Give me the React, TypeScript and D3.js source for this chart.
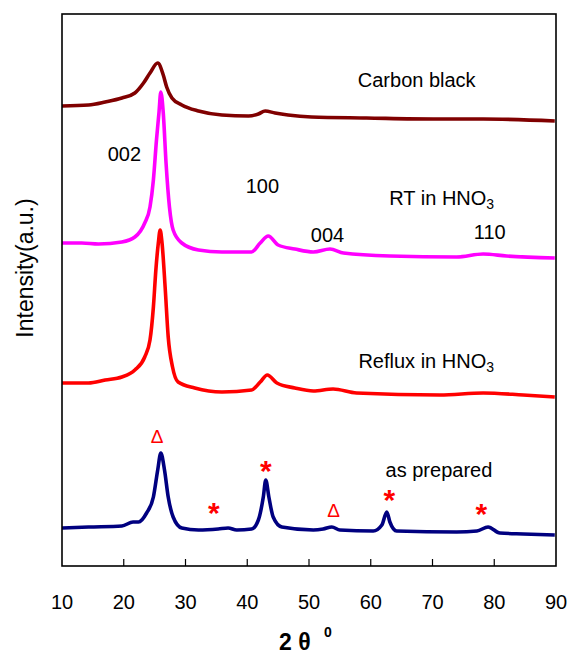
import React from "react";
import * as d3 from "d3";

// 2θ (degrees) and stacked intensity (a.u.)
const carbonTheta = [10, 14.3, 17, 19.7, 21.8, 23.2, 24.25, 25.5, 26.4, 26.95, 27.8, 29.4, 32.1, 35.9, 40.2, 41.8, 42.9, 44.5, 46.6, 50.4, 59.3, 70.1, 78.2, 89.8];
const carbonI = [460, 461, 464, 468, 473, 483, 493, 503, 491, 479, 468, 461, 455, 451, 450, 452, 455, 453, 451, 449, 448, 447, 447, 445];

const rtTheta = [10, 13.2, 15.9, 19.7, 21.8, 23.4, 24.25, 24.8, 25.3, 25.7, 26.0, 26.4, 26.85, 27.4, 28.0, 29.4, 32.1, 35.9, 40.7, 42.1, 43.4, 45.0, 47.7, 50.7, 53.4, 55.6, 63.1, 73.9, 78.2, 82.0, 89.8];
const rtI = [323, 323, 322, 324, 329, 343, 359, 386, 426, 453, 474, 453, 403, 359, 336, 323, 316, 314, 314, 323, 330, 321, 317, 314, 317, 313, 310, 309, 312, 310, 308];

const refluxTheta = [10, 14.3, 17, 19.7, 21.8, 23.4, 24.25, 24.8, 25.2, 25.6, 25.9, 26.2, 26.7, 27.2, 27.9, 28.8, 31.5, 35.9, 40.7, 42.1, 43.25, 44.8, 47.7, 50.7, 53.9, 57.7, 71.2, 78.2, 84.7, 89.8];
const refluxI = [183, 183, 186, 189, 196, 209, 226, 259, 296, 323, 336, 323, 279, 229, 199, 184, 178, 174, 176, 184, 191, 183, 178, 175, 177, 173, 171, 173, 171, 169];

const preparedTheta = [10, 14.3, 19.7, 21.5, 22.4, 23.7, 24.8, 25.5, 26.0, 26.6, 27.2, 28.0, 29.4, 32.1, 35.3, 36.9, 38.3, 40.7, 41.8, 42.6, 43.0, 43.5, 44.2, 45.6, 50.7, 52.3, 53.7, 55.0, 60.4, 61.8, 62.6, 63.1, 64.2, 73.9, 77.2, 79.0, 80.9, 84.7, 89.8];
const preparedI = [38, 39, 40, 44, 44, 53, 69, 96, 113, 96, 69, 49, 38, 36, 37, 38, 36, 37, 46, 69, 86, 69, 49, 39, 36, 37, 39, 36, 35, 41, 54, 44, 35, 34, 35, 39, 33, 32, 31];

const seriesColors = ["#800000", "#ff00ff", "#ff0000", "#000080"];

const xTicks = [10, 20, 30, 40, 50, 60, 70, 80, 90];

// sample labels: text, subscript, 2θ, intensity
const labelText = ["Carbon black", "002", "100", "RT in HNO", "004", "110", "Reflux in HNO", "as prepared"];
const labelSub = ["", "", "", "3", "", "", "3", ""];
const labelTheta = [57.9, 17.4, 39.75, 63.0, 50.3, 76.7, 58.0, 62.4];
const labelI = [479, 405, 373, 361, 324, 327, 198, 89];

// phase markers: symbol, 2θ, intensity
const markerSym = ["Δ", "*", "*", "Δ", "*", "*"];
const markerTheta = [25.4, 34.6, 43.0, 54.0, 63.0, 77.9];
const markerI = [123, 60, 102, 49, 73, 59];

export default function App() {
  const W = 570, H = 655;
  const left = 62, right = 556, top = 14, bottom = 566;
  const x = d3.scaleLinear().domain([10, 90]).range([left, right]);
  const y = d3.scaleLinear().domain([0, 552]).range([bottom, top]);
  const line = d3.line<[number, number]>()
    .x(d => x(d[0]))
    .y(d => y(d[1]))
    .curve(d3.curveMonotoneX);

  const series: [number[], number[]][] = [
    [carbonTheta, carbonI],
    [rtTheta, rtI],
    [refluxTheta, refluxI],
    [preparedTheta, preparedI],
  ];

  const font = "Arial, 'Liberation Sans', sans-serif";

  return (
    <svg width={W} height={H} style={{ position: "absolute", left: 0, top: 0, background: "#fff" }} fontFamily={font}>
      <rect x={0} y={0} width={W} height={H} fill="#fff" />
      {series.map(([tx, iy], k) => (
        <path
          key={k}
          d={line(tx.map((t, i) => [t, iy[i]] as [number, number])) || ""}
          fill="none"
          stroke={seriesColors[k]}
          strokeWidth={3.6}
          strokeLinejoin="round"
        />
      ))}
      {/* frame */}
      <rect x={left} y={top} width={right - left} height={bottom - top} fill="none" stroke="#000" strokeWidth={1.6} />
      {xTicks.map(t => (
        <g key={t}>
          {t > 10 && t < 90 && (
            <line x1={x(t)} x2={x(t)} y1={bottom} y2={bottom - 7} stroke="#000" strokeWidth={1.2} />
          )}
          <text x={x(t)} y={608.5} fontSize={20} textAnchor="middle" fill="#000">{t}</text>
        </g>
      ))}
      <text x={279} y={650} fontSize={23} fontWeight="bold" fill="#000">
        2 θ
        <tspan x={324} y={637} fontSize={14}>0</tspan>
      </text>
      <text transform="translate(33,268) rotate(-90)" fontSize={23} textAnchor="middle" fill="#000">Intensity(a.u.)</text>
      {labelText.map((s, i) => (
        <text key={i} x={x(labelTheta[i])} y={y(labelI[i])} fontSize={20} fill="#000">
          {s}
          {labelSub[i] && <tspan fontSize={14} dy={4}>{labelSub[i]}</tspan>}
        </text>
      ))}
      {markerSym.map((s, i) =>
        s === "*" ? (
          <text key={i} x={x(markerTheta[i])} y={y(markerI[i]) + 17} fontSize={30} fontWeight="bold" textAnchor="middle" fill="#ff0000">*</text>
        ) : (
          <text key={i} x={x(markerTheta[i])} y={y(markerI[i])} fontSize={19} textAnchor="middle" fill="#ff0000">{s}</text>
        )
      )}
    </svg>
  );
}
